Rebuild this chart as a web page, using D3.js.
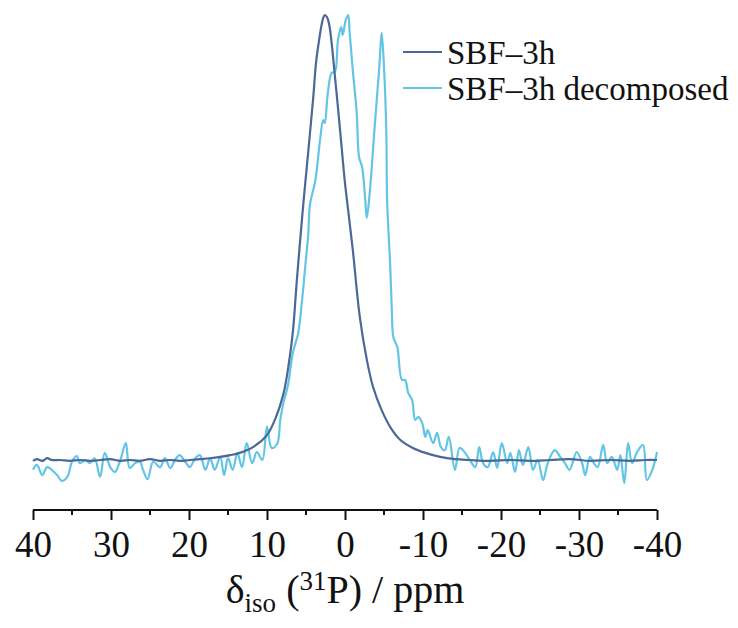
<!DOCTYPE html>
<html lang="en">

<head>
  <meta charset="UTF-8">
  <title>31P NMR</title>
  <style>
    body {
      margin: 0;
      background: #fff;
    }

    svg text {
      font-family: "Liberation Serif", "Times New Roman", serif;
      fill: #111;
    }

    .axis path,
    .axis line {
      stroke: #111;
      stroke-width: 2;
    }

    .spec {
      fill: none;
      stroke-width: 2.2;
      stroke-linejoin: round;
    }
  </style>
</head>

<body>
  <div id="chart"></div>

  <script src="https://d3js.org/d3.v7.min.js"></script>
  <script>
    // series names + colours
    const seriesNames = ['SBF\u20133h', 'SBF\u20133h decomposed'];
    const seriesColors = ['#4a6898', '#62c5e6'];

    // SBF-3h : chemical shift (ppm) / intensity (peak = 100)
    const darkPpm = [40.0, 39.5, 38.8, 38.2, 37.6, 36.5, 35.3, 34.0, 32.7, 31.4, 30.1, 28.8, 27.6, 26.3, 25.0, 23.7,
      22.4, 21.2, 19.9, 18.6, 17.3, 16.0, 14.7, 13.5, 11.8, 10.0, 8.9, 7.9, 7.3, 6.7, 6.2, 5.8, 5.3, 4.9, 4.1, 3.7,
      3.3, 3.0, 2.8, 2.6, 2.3, 2.0, 1.7, 1.4, 1.0, 0.6, 0.0, -0.4, -1.0, -1.9, -2.8, -3.6, -4.7, -5.8, -7.1, -8.7,
      -10.3, -12.2, -14.1, -16.0, -18.6, -21.2, -23.7, -26.3, -28.8, -31.4, -34.0, -36.5, -38.5, -40.0];
    const darkInt = [-0.2, 0.2, -0.2, 0.4, 0.0, 0.0, -0.2, 0.0, -0.2, 0.0, 0.2, -0.2, 0.0, -0.2, 0.2, -0.2,
      0.0, -0.2, 0.0, 0.2, 0.4, 0.7, 1.1, 1.6, 2.9, 5.6, 9.4, 14.8, 20.5, 28.5, 39.8, 48.3, 58.4, 65.8, 80.9, 89.5,
      94.6, 97.8, 99.3, 100, 99.5, 97.6, 93.5, 88.2, 81.0, 73.5, 62.2, 56.2, 47.2, 32.1, 22.5, 16.4, 11.2, 7.4, 4.5,
      2.7, 1.6, 0.7, 0.2, 0.0, -0.2, 0.0, -0.2, 0.0, 0.2, -0.2, 0.0, -0.2, 0.0, 0.0];

    // SBF-3h decomposed
    const lightPpm = [40.0, 39.5, 38.8, 38.2, 37.6, 36.9, 36.3, 35.6, 35.0, 34.4, 34.0, 33.3, 32.7, 32.1, 31.4, 30.8,
      30.1, 29.5, 28.8, 28.1, 27.6, 26.9, 26.3, 25.9, 25.3, 24.6, 23.7, 23.1, 22.4, 21.8, 21.2, 20.5, 19.9, 19.2,
      18.6, 17.9, 17.3, 16.7, 16.0, 15.5, 15.0, 14.4, 13.8, 13.2, 12.6, 11.9, 11.3, 10.6, 10.0, 9.4, 8.7, 8.3, 7.9,
      7.3, 6.7, 6.0, 5.5, 5.1, 4.7, 4.5, 3.8, 3.2, 2.8, 2.6, 2.2, 1.7, 1.3, 0.9, 0.5, 0.3, -0.1, -0.4, -0.6, -1.0,
      -1.5, -1.8, -2.2, -2.6, -2.8, -3.2, -3.8, -4.4, -4.7, -5.0, -5.3, -5.4, -5.8, -6.0, -6.2, -6.7, -7.3, -7.7,
      -8.1, -8.6, -9.0, -9.4, -9.9, -10.3, -10.6, -11.3, -11.8, -12.3, -12.8, -13.3, -14.1, -14.7, -15.4, -16.0,
      -16.7, -17.2, -17.7, -18.3, -19.0, -19.5, -20.1, -20.8, -21.2, -21.8, -22.3, -22.8, -23.5, -24.1, -24.7,
      -25.4, -26.0, -26.9, -27.6, -28.2, -28.8, -29.7, -30.4, -30.8, -31.4, -31.9, -32.4, -33.1, -33.6, -34.2,
      -34.9, -35.3, -35.8, -36.3, -36.8, -37.4, -38.2, -38.7, -39.4, -40.0];
    const lightInt = [-2.2, -1.1, -3.4, -1.6, -2.2, -3.4, -4.7, -3.8, -0.4, 0.9, -0.7, 0.0, -0.7, 0.4, -3.8, 1.6,
      -1.6, -2.7, 0.0, 3.8, -1.8, -0.7, -0.4, -2.2, -4.3, -0.4, -1.6, 0.4, -1.8, 0.0, 1.1, -0.4, -1.6, 0.4,
      1.1, -2.2, 0.4, -2.2, 0.7, -3.4, 0.4, -2.2, 1.6, -1.6, 3.8, -0.7, 1.8, 0.0, 7.5, 2.7, 3.6, 9.0, 12.8,
      16.9, 24.0, 28.5, 36.0, 43.4, 51.0, 57.3, 62.9, 71.9, 76.4, 75.7, 82.5, 87.0, 87.2, 94.4, 97.3, 95.5, 98.9, 100, 96.0, 87.6,
      78.0, 68.1, 65.8, 58.4, 54.4, 60.7, 74.8, 88.3, 96.0, 88.3, 73.5, 58.4, 43.4, 33.7, 27.6, 25.4, 18.0, 18.0,
      15.1, 13.5, 9.0, 9.7, 8.3, 5.2, 6.7, 3.8, 6.1, 2.9, 2.2, 5.2, -2.2, 2.7, 1.6, 0.0,
      -1.6, 2.9, -0.7, -1.6, 1.8, -1.8, 3.8, -0.7, 1.6, -2.7, 2.2, -1.1, 2.9, -2.2, 0.0,
      -4.5, -0.7, 2.2, 0.7, -0.7, -2.2, 1.8, -0.7, -3.4, 0.7, -0.7, -1.6, 3.4, -0.7, 0.7,
      -2.2, 1.1, -5.2, 3.8, -0.7, 1.6, 3.4, -4.5, -2.2, 1.8];

    const xTicks = [40, 30, 20, 10, 0, -10, -20, -30, -40];

    (function () {
      const width = 738;
      const height = 628;

      const svg = d3.select('#chart')
        .append('svg')
        .attr('width', width)
        .attr('height', height);

      const x = d3.scaleLinear()
        .domain([40, -40])
        .range([33, 657]);

      const y = d3.scaleLinear()
        .domain([0, 100])
        .range([460, 15]);

      // x axis
      const axisY = 510;
      const gx = svg.append('g')
        .classed('axis', true)
        .attr('transform', `translate(0,${axisY})`)
        .call(d3.axisBottom(x).tickValues(xTicks).tickSize(10).tickSizeOuter(0).tickFormat(d => String(d)));
      gx.attr('font-family', null);
      gx.select('.domain').attr('d', `M${x(40)},0H${x(-40)}`);
      gx.selectAll('.tick text')
        .attr('y', 47)
        .attr('dy', null)
        .style('font-family', '"Liberation Serif", serif')
        .style('font-size', '37px');

      // minor ticks
      gx.selectAll('.minor')
        .data(d3.range(35, -40, -10))
        .enter()
        .append('line')
        .classed('minor', true)
        .attr('x1', d => x(d))
        .attr('x2', d => x(d))
        .attr('y1', 0)
        .attr('y2', 5);

      // axis title
      const title = svg.append('text')
        .attr('x', x(0))
        .attr('y', 603)
        .attr('text-anchor', 'middle')
        .style('font-size', '40px');
      title.append('tspan').text('\u03b4');
      title.append('tspan').attr('dy', 9).style('font-size', '27px').text('iso');
      title.append('tspan').attr('dy', -9).text(' (');
      title.append('tspan').attr('dy', -13).style('font-size', '27px').text('31');
      title.append('tspan').attr('dy', 13).text('P) / ppm');

      // lines
      const line = d3.line()
        .curve(d3.curveCatmullRom.alpha(0.5))
        .x(d => x(d[0]))
        .y(d => y(d[1]));

      const series = [
        d3.zip(darkPpm, darkInt),
        d3.zip(lightPpm, lightInt)
      ];

      // decomposed drawn first, SBF-3h on top
      [1, 0].forEach(i => {
        svg.append('path')
          .datum(series[i])
          .classed('spec', true)
          .attr('stroke', seriesColors[i])
          .attr('d', line);
      });

      // legend
      const legend = svg.append('g')
        .attr('transform', 'translate(403,52)');

      const items = legend.selectAll('g')
        .data(seriesNames)
        .enter()
        .append('g')
        .attr('transform', (d, i) => `translate(0,${i * 36})`);

      items.append('line')
        .attr('x1', 0)
        .attr('x2', 39)
        .attr('stroke', (d, i) => seriesColors[i])
        .attr('stroke-width', 2);

      items.append('text')
        .attr('x', 44)
        .attr('dy', '0.35em')
        .style('font-size', '33px')
        .text(d => d);

    })();
  </script>
</body>

</html>
